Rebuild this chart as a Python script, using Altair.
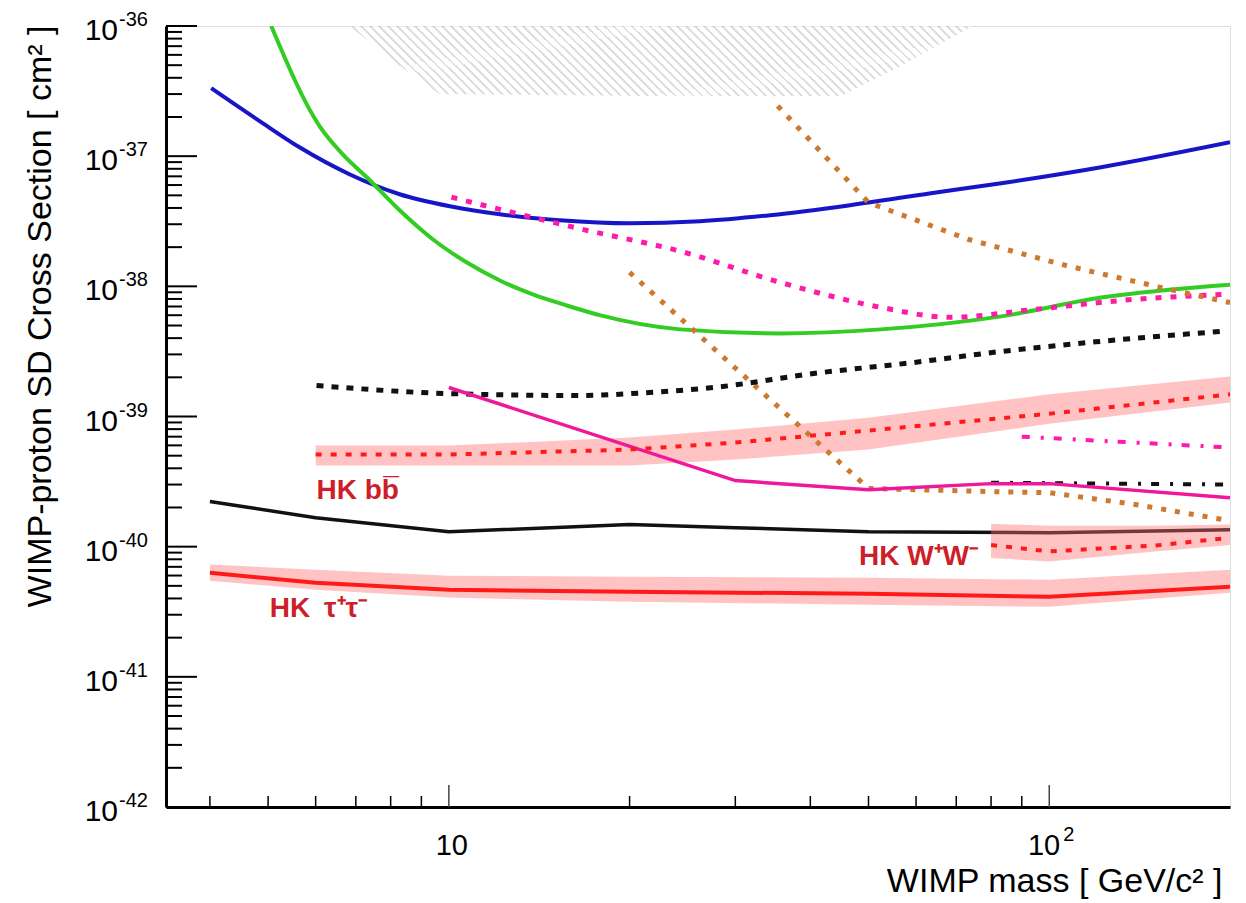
import altair as alt
import pandas as pd

# ---------------- curve data (x: WIMP mass [GeV/c^2], y: cross section [cm^2]) ----------------
blue_x = [4.02, 4.84, 5.64, 6.83, 8.28, 10.04, 12.16, 15.3, 20.0, 26.2, 34.3, 46.6, 63.5, 83.2, 122, 200]
blue_y = [3.33e-37, 1.86e-37, 1.17e-37, 7.27e-38, 5.1e-38, 4.12e-38, 3.58e-38, 3.22e-38, 3.05e-38,
          3.16e-38, 3.52e-38, 4.2e-38, 5.19e-38, 6.2e-38, 8.23e-38, 1.28e-37]

green_x = [5.06, 6.09, 6.7, 7.3, 8.28, 9.4, 10.7, 12.16, 13.8, 15.7, 17.9, 24.3, 35.7, 52.4, 83.2, 122, 200]
green_y = [1e-36, 1.7e-37, 1.0e-37, 6.89e-38, 3.84e-38, 2.3e-38, 1.53e-38, 1.11e-38, 8.67e-39,
           7.14e-39, 5.98e-39, 4.67e-39, 4.35e-39, 4.67e-39, 5.88e-39, 8.2e-39, 1.03e-38]

pinkdot_x = [10.1, 16.7, 24.3, 35.7, 52.4, 68.5, 94.4, 138.7, 198.5]
pinkdot_y = [4.84e-38, 2.74e-38, 1.86e-38, 1.07e-38, 6.9e-39, 5.78e-39, 6.65e-39, 7.94e-39, 8.7e-39]

orange1_x = [35.3, 50.0, 73.2, 107.6, 158, 200]
orange1_y = [2.43e-37, 4.4e-38, 2.3e-38, 1.43e-38, 9.5e-39, 7.5e-39]

orange2_x = [20.0, 50.0, 80.0, 100.0, 140.0, 200.0]
orange2_y = [1.28e-38, 2.8e-40, 2.65e-40, 2.6e-40, 2.1e-40, 1.58e-40]

blackdot_x = [6.02, 10.0, 16.5, 21.6, 27.6, 40.5, 59.5, 83.2, 122, 193]
blackdot_y = [1.73e-39, 1.5e-39, 1.45e-39, 1.53e-39, 1.67e-39, 2.14e-39, 2.6e-39, 3.16e-39, 3.78e-39, 4.5e-39]

black_x = [4, 6, 10, 20, 30, 50, 100, 200]
black_y = [2.22e-40, 1.67e-40, 1.3e-40, 1.48e-40, 1.4e-40, 1.3e-40, 1.28e-40, 1.35e-40]

pink_x = [10, 30, 50, 80, 100, 200]
pink_y = [1.67e-39, 3.22e-40, 2.74e-40, 3.05e-40, 3.05e-40, 2.38e-40]

pinkdd_x = [90, 200]
pinkdd_y = [7.0e-40, 5.78e-40]

blackdd_x = [80, 200]
blackdd_y = [3.1e-40, 3.0e-40]

# HK b-bbar (dotted, with band)
bb_x = [6, 10, 20, 30, 50, 100, 200]
bb_y = [5.1e-40, 5.1e-40, 5.57e-40, 6.3e-40, 7.8e-40, 1.05e-39, 1.48e-39]
bb_lo = [4.2e-40, 4.2e-40, 4.2e-40, 4.67e-40, 5.57e-40, 8.8e-40, 1.28e-39]
bb_hi = [5.98e-40, 5.98e-40, 6.9e-40, 7.94e-40, 9.8e-40, 1.48e-39, 2.03e-39]

# HK W+W- (dotted, with band)
ww_x = [80, 100, 150, 200]
ww_y = [1.03e-40, 9.2e-41, 1.02e-40, 1.17e-40]
ww_lo = [8.2e-41, 7.7e-41, 9.2e-41, 1.03e-40]
ww_hi = [1.5e-40, 1.45e-40, 1.45e-40, 1.48e-40]

# HK tau+tau- (solid, with band)
tt_x = [4, 6, 10, 20, 50, 100, 200]
tt_y = [6.3e-41, 5.28e-41, 4.67e-41, 4.5e-41, 4.35e-41, 4.12e-41, 4.92e-41]
tt_lo = [5.47e-41, 4.67e-41, 4.06e-41, 3.78e-41, 3.58e-41, 3.45e-41, 4.42e-41]
tt_hi = [7.28e-41, 6.65e-41, 5.98e-41, 5.88e-41, 5.78e-41, 5.57e-41, 6.65e-41]

# excluded (hatched) region at the top
hatch_x = [6.83, 8.28, 9.66, 21.6, 45.0, 56.6, 74.6]
hatch_lo = [1e-36, 4.92e-37, 3.0e-37, 2.9e-37, 2.9e-37, 4.92e-37, 1e-36]
hatch_hi = [1e-36, 1e-36, 1e-36, 1e-36, 1e-36, 1e-36, 1e-36]

# HK labels
hk_x = [6.02, 5.03, 48.2]
hk_y = [2.7e-40, 3.33e-41, 8.4e-41]
hk_text = ["HK bb\u0305", "HK\u2002\u03c4\u207a\u03c4\u207b", "HK W\u207aW\u207b"]

# axis ticks and labels
y_major = [1e-42, 1e-41, 1e-40, 1e-39, 1e-38, 1e-37, 1e-36]
y_major_exp = ["-42", "-41", "-40", "-39", "-38", "-37", "-36"]
y_minor_mant = [2, 3, 4, 5, 6, 7, 8, 9]
y_decades = [1e-42, 1e-41, 1e-40, 1e-39, 1e-38, 1e-37]
x_major = [10, 100]
x_minor = [4, 5, 6, 7, 8, 9, 20, 30, 40, 50, 60, 70, 80, 90]

FONT = "Liberation Sans"
W, H = 1064, 781

# hatch texture (styling): striped linear gradient, ~45 degree lines on screen
N_STRIPES = 70
hatch_stops = []
for i in range(N_STRIPES):
    a = i / N_STRIPES
    b = (i + 0.32) / N_STRIPES
    hatch_stops += [alt.GradientStop(offset=a, color="#c4c4c4"),
                    alt.GradientStop(offset=b, color="#c4c4c4"),
                    alt.GradientStop(offset=b, color="#ffffff"),
                    alt.GradientStop(offset=(i + 1) / N_STRIPES, color="#ffffff")]
hatch_fill = alt.LinearGradient(gradient="linear", stops=hatch_stops, x1=0, y1=0.114, x2=1, y2=0)

xscale = alt.Scale(type="log", domain=[3.38, 200], nice=False, zero=False)
yscale = alt.Scale(type="log", domain=[1e-42, 1e-36], nice=False, zero=False)

xaxis = alt.Axis(title="WIMP mass [ GeV/c\u00b2 ]", labels=False, ticks=False, grid=False,
                 domainColor="#000000", domainWidth=3, titleFont=FONT, titleFontSize=34,
                 titleFontWeight="normal", titleColor="#000000", titleAlign="right",
                 titleAnchor="end", titleBaseline="alphabetic", titleX=W - 8, titleY=84)
yaxis = alt.Axis(title="WIMP-proton SD Cross Section [ cm\u00b2 ]", labels=False, ticks=False,
                 grid=False, domainColor="#000000", domainWidth=3, titleFont=FONT,
                 titleFontSize=34, titleFontWeight="normal", titleColor="#000000",
                 titleAngle=270, titleAlign="right", titleAnchor="end",
                 titleBaseline="alphabetic", titleX=-116, titleY=-1)


def X(f):
    return alt.X(f, type="quantitative", scale=xscale, axis=xaxis)


def Y(f):
    return alt.Y(f, type="quantitative", scale=yscale, axis=yaxis)


def curve(xs, ys, color, width, dash=None, interp="linear"):
    df = pd.DataFrame({"mass": xs, "xsec": ys})
    props = dict(color=color, strokeWidth=width, clip=True, interpolate=interp)
    if dash:
        props["strokeDash"] = dash
    return alt.Chart(df).mark_line(**props).encode(x=X("mass"), y=Y("xsec"))


def band(xs, lo, hi, color, opacity):
    df = pd.DataFrame({"mass": xs, "lo": lo, "hi": hi})
    return alt.Chart(df).mark_area(color=color, opacity=opacity, clip=True).encode(
        x=X("mass"), y=Y("lo"), y2=alt.Y2("hi"))


layers = []
hatch_df = pd.DataFrame({"mass": hatch_x, "lo": hatch_lo, "hi": hatch_hi})
layers.append(alt.Chart(hatch_df).mark_area(color=hatch_fill, opacity=0.55, clip=True).encode(
    x=X("mass"), y=Y("lo"), y2=alt.Y2("hi")))
layers.append(band(bb_x, bb_lo, bb_hi, "#ff6f6f", 0.42))
layers.append(band(tt_x, tt_lo, tt_hi, "#ff6f6f", 0.42))

layers.append(curve(blue_x, blue_y, "#1616c8", 4, interp="monotone"))
layers.append(curve(green_x, green_y, "#33cc22", 4, interp="monotone"))
layers.append(curve(pinkdot_x, pinkdot_y, "#ff1aa8", 5, dash=[6, 9], interp="monotone"))
layers.append(curve(orange1_x, orange1_y, "#cc7a30", 5, dash=[5, 9]))
layers.append(curve(orange2_x, orange2_y, "#cc7a30", 5, dash=[5, 9]))
layers.append(curve(blackdot_x, blackdot_y, "#111111", 5, dash=[7, 8], interp="monotone"))
layers.append(curve(blackdd_x, blackdd_y, "#111111", 4, dash=[8, 11, 3, 10]))
layers.append(curve(pink_x, pink_y, "#f0189a", 3.5))
layers.append(curve(pinkdd_x, pinkdd_y, "#ff1aa8", 4, dash=[8, 11, 3, 10]))
layers.append(curve(black_x, black_y, "#111111", 3.5))
layers.append(curve(bb_x, bb_y, "#ff1a1a", 4, dash=[6, 9]))
layers.append(band(ww_x, ww_lo, ww_hi, "#ff6f6f", 0.42))
layers.append(curve(ww_x, ww_y, "#ff1a1a", 4, dash=[6, 9]))
layers.append(curve(tt_x, tt_y, "#ff1a1a", 4))

# ticks (drawn inward like ROOT)
ymin_vals = [m * d for d in y_decades for m in y_minor_mant]
layers.append(alt.Chart(pd.DataFrame({"v": y_major})).mark_rule(color="#000000", strokeWidth=2)
              .encode(y=Y("v"), x=alt.value(0), x2=alt.value(31)))
layers.append(alt.Chart(pd.DataFrame({"v": ymin_vals})).mark_rule(color="#000000", strokeWidth=2)
              .encode(y=Y("v"), x=alt.value(0), x2=alt.value(16)))
layers.append(alt.Chart(pd.DataFrame({"v": x_major})).mark_rule(color="#444444", strokeWidth=1.5)
              .encode(x=X("v"), y=alt.value(H), y2=alt.value(H - 22)))
layers.append(alt.Chart(pd.DataFrame({"v": x_minor})).mark_rule(color="#000000", strokeWidth=1.5)
              .encode(x=X("v"), y=alt.value(H), y2=alt.value(H - 11)))

# y tick labels 10^n
ylab = pd.DataFrame({"v": y_major, "e": y_major_exp})
layers.append(alt.Chart(ylab).mark_text(text="10", align="right", baseline="middle", font=FONT,
                                        fontSize=30, dy=5, color="#000000")
              .encode(y=Y("v"), x=alt.value(-48)))
layers.append(alt.Chart(ylab).mark_text(align="left", baseline="middle", font=FONT,
                                        fontSize=20, dy=-6, color="#000000")
              .encode(y=Y("v"), x=alt.value(-47), text="e:N"))

# x tick labels
layers.append(alt.Chart(pd.DataFrame({"v": [x_major[0]]})).mark_text(
    text="10", align="center", baseline="middle", font=FONT, fontSize=29, dx=3, color="#000000")
    .encode(x=X("v"), y=alt.value(H + 39)))
layers.append(alt.Chart(pd.DataFrame({"v": [x_major[1]]})).mark_text(
    text="10", align="right", baseline="middle", font=FONT, fontSize=29, dx=11, color="#000000")
    .encode(x=X("v"), y=alt.value(H + 39)))
layers.append(alt.Chart(pd.DataFrame({"v": [x_major[1]]})).mark_text(
    text="2", align="left", baseline="middle", font=FONT, fontSize=20, dx=14, color="#000000")
    .encode(x=X("v"), y=alt.value(H + 28)))

# HK labels
hk = pd.DataFrame({"mass": hk_x, "xsec": hk_y, "t": hk_text})
layers.append(alt.Chart(hk).mark_text(align="left", baseline="middle", font=FONT, fontSize=28,
                                      fontWeight="bold", color="#cc1f2a")
              .encode(x=X("mass"), y=Y("xsec"), text="t:N"))

chart = alt.layer(*layers).properties(
    width=W, height=H,
    autosize=alt.AutoSizeParams(type="none"),
    padding={"left": 158, "top": 18, "right": 8, "bottom": 94},
    background="white",
).configure_view(stroke="#666666", strokeWidth=2.5).configure(font=FONT)

chart.save("out.html", embed_options={"renderer": "svg", "actions": False})
